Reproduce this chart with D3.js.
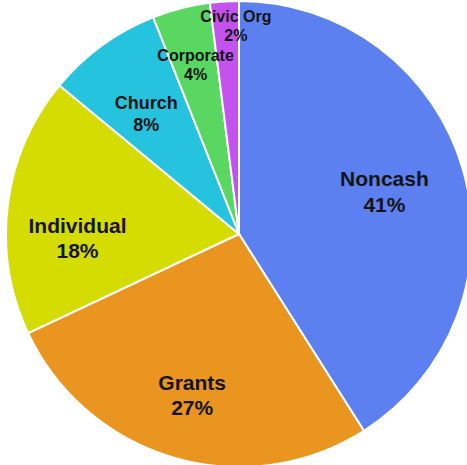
<!DOCTYPE html>
<html>
<head>
<meta charset="utf-8">
<script src="https://cdn.jsdelivr.net/npm/d3@7"></script>
<style>
  html, body { margin: 0; padding: 0; background: #fff; }
  text { font-family: "Liberation Sans", Arial, sans-serif; font-weight: bold; fill: #141414; }
</style>
</head>
<body>
<div id="main"></div>
<script>
// data
const categories = ["Noncash", "Grants", "Individual", "Church", "Corporate", "Civic Org"];
const shares = [41, 27, 18, 8, 4, 2];
const colors = ["#5c80ef", "#e9951f", "#d5dc02", "#25c3dd", "#59d760", "#c352ef"];

// label placement (fraction of radius, nudges) and font sizes
const labelR = [0.65, 0.72, 0.69, 0.655, 0.75, 0.895];
const labelDx = [0, 0, -2, -3, 0, 10];
const labelDy = [0, 0, 24, 3, 0, 0];
const labelSize = [21, 21, 21, 18, 16, 16];

const ctx = { WIDTH: 467, HEIGHT: 465, cx: 239, cy: 234, r: 233 };

function createViz() {
    const svg = d3.select("#main").append("svg")
        .attr("width", ctx.WIDTH)
        .attr("height", ctx.HEIGHT);

    const items = categories.map((c, i) => ({ name: c, value: shares[i], i: i }));

    const pie = d3.pie().sort(null).value(d => d.value);
    const arcs = pie(items);

    const arc = d3.arc().innerRadius(0).outerRadius(ctx.r);

    const g = svg.append("g")
        .attr("transform", `translate(${ctx.cx},${ctx.cy})`);

    g.selectAll("path")
        .data(arcs)
        .enter()
        .append("path")
        .attr("d", arc)
        .attr("fill", d => colors[d.data.i])
        .attr("stroke", "#fff")
        .attr("stroke-width", 2);

    // labels
    const lbl = g.selectAll("g.lbl")
        .data(arcs)
        .enter()
        .append("g")
        .attr("class", "lbl")
        .attr("transform", d => {
            const rr = ctx.r * labelR[d.data.i];
            const a = d3.arc().innerRadius(rr).outerRadius(rr);
            const [x, y] = a.centroid(d);
            return `translate(${x + labelDx[d.data.i]},${y + labelDy[d.data.i]})`;
        });

    lbl.append("text")
        .attr("text-anchor", "middle")
        .attr("font-size", d => labelSize[d.data.i])
        .attr("y", d => -labelSize[d.data.i] * 0.25)
        .text(d => d.data.name);

    lbl.append("text")
        .attr("text-anchor", "middle")
        .attr("font-size", d => labelSize[d.data.i])
        .attr("y", d => labelSize[d.data.i] * 0.95)
        .text(d => d.data.value + "%");
}

createViz();
</script>
</body>
</html>
